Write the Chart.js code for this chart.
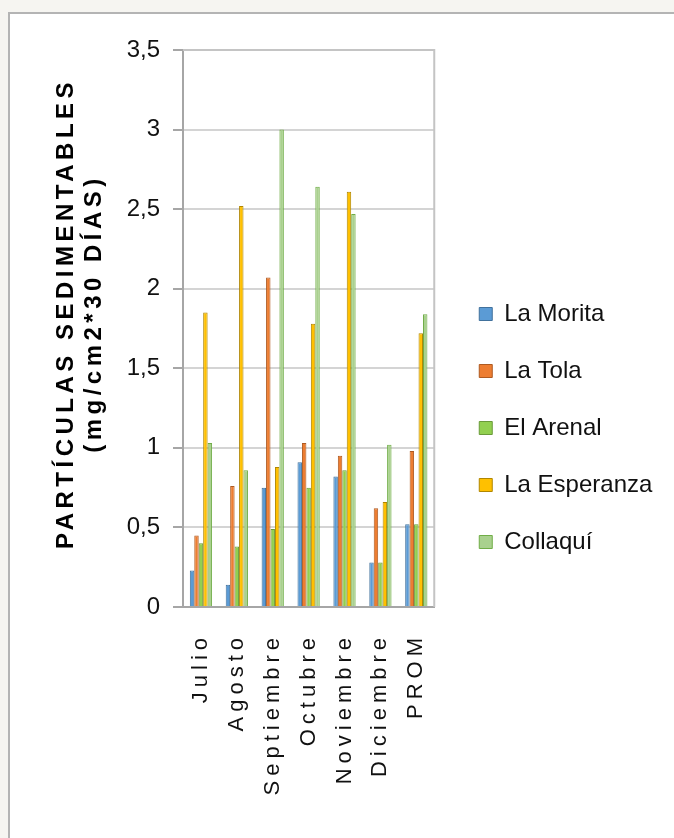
<!DOCTYPE html>
<html lang="es">
<head>
<meta charset="utf-8">
<title>Partículas sedimentables</title>
<script src="https://cdn.jsdelivr.net/npm/chart.js@4.4.1/dist/chart.umd.min.js"></script>
<style>
  html, body { margin: 0; padding: 0; background: #f6f5f1; overflow: hidden; }
  #panel {
    position: absolute; left: 8px; top: 12px; width: 700px; height: 900px;
    background: #fff; border-left: 2px solid #b4b4b4; border-top: 2px solid #b4b4b4;
  }
  #chart { position: absolute; left: 0; top: 0; }
</style>
</head>
<body>
<div id="panel"></div>
<canvas id="chart" width="674" height="838"></canvas>
<script>
const months = ['Julio', 'Agosto', 'Septiembre', 'Octubre', 'Noviembre', 'Diciembre', 'PROM'];
const yTickLabels = ['0', '0,5', '1', '1,5', '2', '2,5', '3', '3,5'];

const laMorita    = [0.23, 0.14, 0.75, 0.91, 0.82, 0.28, 0.52];
const laTola      = [0.45, 0.76, 2.07, 1.03, 0.95, 0.62, 0.98];
const elArenal    = [0.40, 0.38, 0.49, 0.75, 0.86, 0.28, 0.52];
const laEsperanza = [1.85, 2.52, 0.88, 1.78, 2.61, 0.66, 1.72];
const collaqui    = [1.03, 0.86, 3.00, 2.64, 2.47, 1.02, 1.84];

const FONT = "'Liberation Sans', Arial, sans-serif";

// el texto girado del original sale estirado: se imita con letterSpacing
function withSpacing(fn, px, shiftY) {
  return function (...args) {
    const ctx = this.ctx;
    ctx.save();
    ctx.letterSpacing = px + 'px';
    if (shiftY) ctx.translate(0, shiftY);
    fn.apply(this, args);
    ctx.restore();
  };
}

const spacingPlugin = {
  id: 'spacing',
  afterLayout(chart) {
    const xs = chart.scales.x;
    const ys = chart.scales.y;
    if (!xs._spaced) {
      xs.drawLabels = withSpacing(xs.drawLabels, 5, 0);
      xs._spaced = true;
    }
    if (!ys._spaced) {
      ys.drawTitle = withSpacing(ys.drawTitle, 4.5, -15);
      ys._spaced = true;
    }
    // la leyenda ocupa todo el margen derecho, algo separada del área
    chart.legend.left = chart.chartArea.right + 12;
    chart.legend.right = chart.width;
  }
};

// marco gris del área de trazado
const plotFrame = {
  id: 'plotFrame',
  afterDraw(chart) {
    const {ctx, chartArea: a} = chart;
    ctx.save();
    ctx.strokeStyle = '#c4c4c4';
    ctx.lineWidth = 2;
    ctx.beginPath();
    ctx.moveTo(a.left, a.top);
    ctx.lineTo(a.right, a.top);
    ctx.lineTo(a.right, a.bottom);
    ctx.stroke();
    ctx.restore();
  }
};

function series(label, data, fill, border) {
  return {
    label: label,
    data: data,
    backgroundColor: fill,
    borderColor: border,
    borderWidth: 1,
    borderSkipped: 'bottom'
  };
}

new Chart(document.getElementById('chart'), {
  type: 'bar',
  data: {
    labels: months,
    datasets: [
      series('La Morita', laMorita, '#5b9bd5', '#41719c'),
      series('La Tola', laTola, '#ed7d31', '#ae5a21'),
      series('El Arenal', elArenal, '#92d050', '#6a9a3a'),
      series('La Esperanza', laEsperanza, '#ffc000', '#b08600'),
      series('Collaquí', collaqui, '#a9d18e', '#70ad47')
    ]
  },
  options: {
    responsive: false,
    animation: false,
    categoryPercentage: 0.62,
    barPercentage: 1.0,
    layout: { padding: { left: 0, top: 50, right: 95, bottom: 32 } },
    plugins: {
      legend: {
        position: 'right',
        labels: {
          boxWidth: 13,
          boxHeight: 13,
          padding: 33,
          color: '#111',
          font: { family: FONT, size: 24 }
        }
      },
      tooltip: { enabled: false }
    },
    scales: {
      x: {
        grid: { display: false, drawTicks: false },
        border: { display: true, color: '#a6a6a6', width: 2 },
        ticks: {
          minRotation: 90,
          maxRotation: 90,
          padding: 26,
          color: '#111',
          font: { family: FONT, size: 22 }
        },
        afterFit(scale) { scale.height = 199; }
      },
      y: {
        min: 0,
        max: 3.5,
        grid: { color: '#d4d4d4', lineWidth: 2, tickLength: 10, tickColor: '#a6a6a6' },
        border: { display: true, color: '#a6a6a6', width: 2 },
        ticks: {
          stepSize: 0.5,
          padding: 13,
          color: '#111',
          font: { family: FONT, size: 24 },
          callback: (value, i) => yTickLabels[i]
        },
        title: {
          display: true,
          text: ['PARTÍCULAS SEDIMENTABLES', '(mg/cm2*30 DÍAS)'],
          color: '#000',
          padding: { top: 52, bottom: 0 },
          font: { family: FONT, size: 24, weight: 'bold', lineHeight: '28px' }
        },
        afterFit(scale) { scale.width = 183; }
      }
    }
  },
  plugins: [spacingPlugin, plotFrame]
});
</script>
</body>
</html>
